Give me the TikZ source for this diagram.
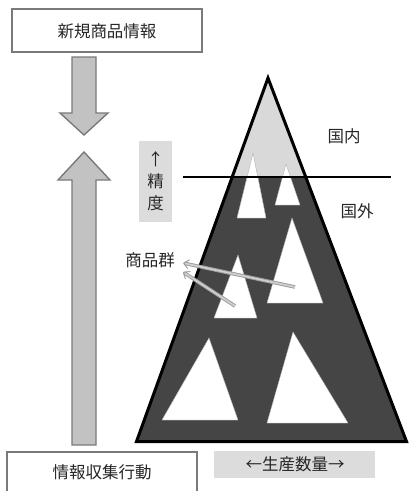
\documentclass[tikz,border=0pt]{standalone}
\usepackage{fontspec}
\setmainfont{Noto Sans CJK JP}
\usetikzlibrary{arrows.meta}
\definecolor{boxline}{HTML}{7A7A7A}
\definecolor{arrowfill}{HTML}{C2C2C2}
\definecolor{lightbox}{HTML}{DCDCDC}
\definecolor{topgray}{HTML}{D9D9D9}
\definecolor{darkfill}{HTML}{454545}
\definecolor{pointer}{HTML}{A0A0A0}
\definecolor{pointerin}{HTML}{D0D0D0}
\tikzset{
  labelbox/.style={draw=boxline, line width=1.6pt, fill=white},
  grayarrow/.style={draw=boxline, line width=1.4pt, fill=arrowfill, line join=miter},
  graybox/.style={fill=lightbox, draw=none},
  lbl/.style={font=\fontsize{16.5}{19}\selectfont, inner sep=0pt, text=black!85},
  hole/.style={fill=white, draw=gray!60, line width=0.4pt},
  pointerarrow/.style={draw=pointer, line width=1pt, double=pointerin, double distance=1.6pt, -{Straight Barb[length=5pt, width=9pt]}},
}
\begin{document}
\begin{tikzpicture}[x=1pt, y=-1pt]
\useasboundingbox (0,0) rectangle (409,491);
\begin{scope}
\clip (0,0) rectangle (409,491);
% top box
\draw[labelbox] (12,9) rectangle (202,52);
\node[lbl] (newinfo) at (107,31) {新規商品情報};
% down arrow
\draw[grayarrow] (72,57) -- (96,57) -- (96,113) -- (108,113) -- (84,135) -- (60,113) -- (72,113) -- cycle;
% up arrow
\draw[grayarrow] (72,445) -- (96,445) -- (96,180) -- (110,180) -- (84,152) -- (58,180) -- (72,180) -- cycle;
% precision box
\fill[graybox] (139,141) rectangle (172,222);
\node[lbl, align=center, font=\fontsize{16.5}{22}\selectfont] (prec) at (155.5,181) {↑\\精\\度};
% big triangle
\begin{scope}
\clip (268,78) -- (136.5,441.5) -- (406.5,441.5) -- cycle;
\fill[topgray] (130,60) rectangle (409,177);
\fill[darkfill] (130,177) rectangle (409,445);
\end{scope}
\draw[line width=3pt, line join=miter, miter limit=20] (268,78) -- (136.5,441.5) -- (406.5,441.5) -- cycle;
% holes
\draw[hole] (253,153) -- (266,218) -- (237,218) -- cycle;
\draw[hole] (286,164) -- (300,205) -- (275,205) -- cycle;
\draw[hole] (292,218) -- (323,303) -- (267,303) -- cycle;
\draw[hole] (238,255) -- (257,318) -- (214,318) -- cycle;
\draw[hole] (209,338) -- (238,420) -- (162,420) -- cycle;
\draw[hole] (293,332) -- (348,423) -- (267,423) -- cycle;
% border line
\draw[line width=2.6pt] (183,177) -- (391,177);
% labels
\node[lbl] (domestic) at (344,136) {国内};
\node[lbl] (overseas) at (357,211) {国外};
\node[lbl] (group) at (150,260) {商品群};
% pointer arrows
\coordinate (p1s) at (295,287);
\coordinate (p1e) at (183,263);
\coordinate (p2s) at (235,306);
\coordinate (p2e) at (183,272);
\draw[pointerarrow] (p1s) -- (p1e);
\draw[pointerarrow] (p2s) -- (p2e);
% bottom boxes
\draw[labelbox] (7,452) rectangle (197,500);
\node[lbl] (collect) at (102,472) {情報収集行動};
\fill[graybox] (214,451) rectangle (375,478);
\node[lbl] (qty) at (295,464.5) {←生産数量→};
\end{scope}
\end{tikzpicture}
\end{document}
